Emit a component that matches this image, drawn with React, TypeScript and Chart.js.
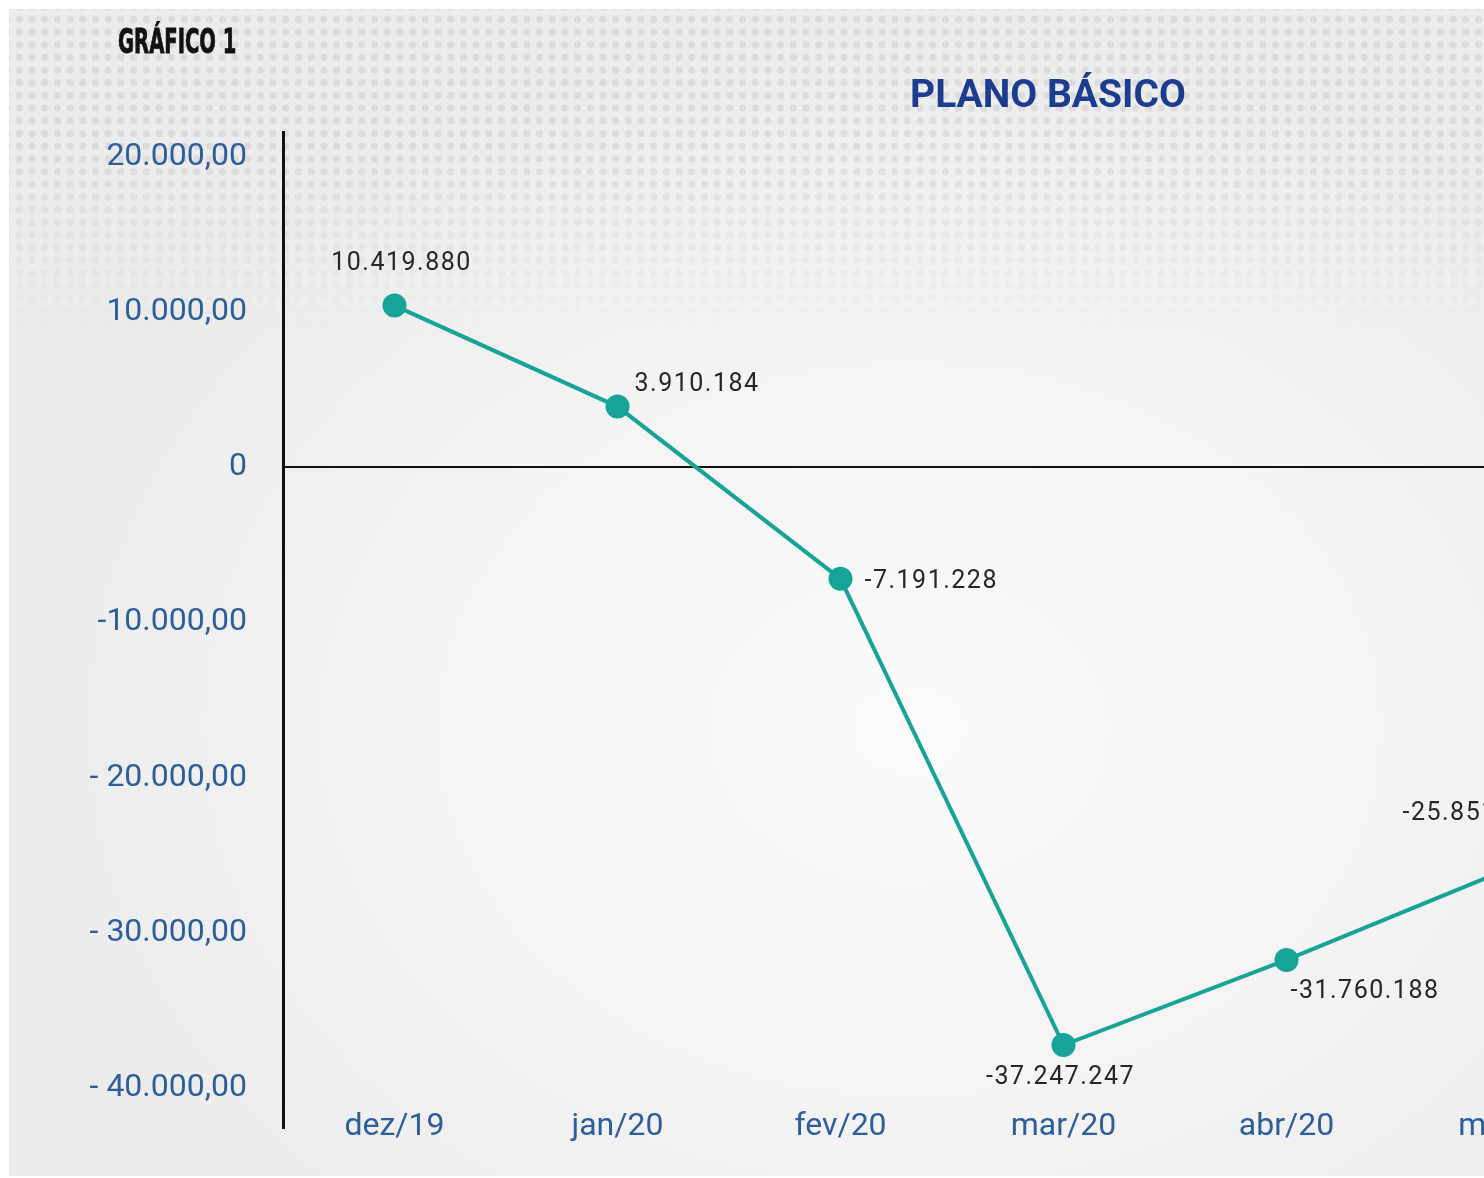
import React, { useEffect, useRef } from "react";
import { Chart, registerables } from "chart.js";

Chart.register(...registerables);

// ---- data ----
const MONTHS = ["dez/19", "jan/20", "fev/20", "mar/20", "abr/20", "mai/20"];
const VALUES = [10419880, 3910184, -7191228, -37247247, -31760188, -25851000];
const Y_TICK_VALUES = [20000, 10000, 0, -10000, -20000, -30000, -40000];
const Y_TICK_LABELS = ["20.000,00", "10.000,00", "0", "-10.000,00", "- 20.000,00", "- 30.000,00", "- 40.000,00"];
const Y_MIN = -42580;
const Y_MAX = 21610;

// ---- label placement (style) ----
const LABEL_PLACEMENT: { dx: number; dy: number; align: CanvasTextAlign }[] = [
  { dx: 7, dy: -42, align: "center" },
  { dx: 17, dy: -22, align: "left" },
  { dx: 24, dy: 3, align: "left" },
  { dx: -3, dy: 33, align: "center" },
  { dx: 4, dy: 32, align: "left" },
  { dx: -107, dy: -55, align: "left" },
];

const TEAL = "#17a398";
const TICK_BLUE = "#2d5e9c";

function fmt(v: number): string {
  const s = Math.abs(v).toString().replace(/\B(?=(\d{3})+(?!\d))/g, ".");
  return (v < 0 ? "-" : "") + s;
}

const valueLabelPlugin = {
  id: "valueLabels",
  afterDatasetsDraw(chart: any) {
    const ctx = chart.ctx as CanvasRenderingContext2D;
    const meta = chart.getDatasetMeta(0);
    ctx.save();
    ctx.font = "400 25px Roboto";
    (ctx as any).letterSpacing = "1.5px";
    ctx.fillStyle = "#262626";
    ctx.textBaseline = "middle";
    meta.data.forEach((el: any, i: number) => {
      const p = LABEL_PLACEMENT[i];
      ctx.textAlign = p.align;
      ctx.fillText(fmt(VALUES[i]), el.x + p.dx, el.y + p.dy);
    });
    ctx.restore();
  },
};

// x-axis category labels drawn at the scale's tick pixels, overlapping the axis bottom
const xLabelPlugin = {
  id: "xLabels",
  afterDraw(chart: any) {
    const ctx = chart.ctx as CanvasRenderingContext2D;
    const xs = chart.scales.x;
    ctx.save();
    ctx.font = "400 32px Roboto";
    ctx.fillStyle = TICK_BLUE;
    ctx.textAlign = "center";
    ctx.textBaseline = "middle";
    MONTHS.forEach((m, i) => {
      ctx.fillText(m, xs.getPixelForTick(i), chart.chartArea.bottom - 1);
    });
    ctx.restore();
  },
};

export default function App() {
  const ref = useRef<HTMLCanvasElement>(null);

  useEffect(() => {
    if (!ref.current) return;
    const chart = new Chart(ref.current, {
      type: "line",
      data: {
        labels: MONTHS,
        datasets: [
          {
            data: VALUES.map((v) => v / 1000),
            borderColor: TEAL,
            backgroundColor: TEAL,
            borderWidth: 4,
            pointRadius: 12,
            pointHoverRadius: 12,
            pointBackgroundColor: TEAL,
            pointBorderWidth: 0,
            tension: 0,
            fill: false,
            clip: false as any,
          },
        ],
      },
      options: {
        responsive: false,
        animation: false,
        devicePixelRatio: 1,
        layout: { padding: { top: 132, left: 0, right: 0, bottom: 0 } },
        plugins: {
          legend: { display: false },
          title: { display: false },
          tooltip: { enabled: false },
        },
        scales: {
          x: {
            type: "category",
            offset: true,
            grid: { display: false, drawTicks: false },
            border: { display: false },
            ticks: { display: false },
            afterFit: (scale: any) => {
              scale.height = 46;
            },
          },
          y: {
            type: "linear",
            min: Y_MIN,
            max: Y_MAX,
            afterBuildTicks: (scale: any) => {
              scale.ticks = Y_TICK_VALUES.map((v) => ({ value: v }));
            },
            afterFit: (scale: any) => {
              scale.width = 283;
            },
            grid: {
              drawTicks: false,
              color: (c: any) => (c.tick && c.tick.value === 0 ? "#111" : "rgba(0,0,0,0)"),
              lineWidth: 2,
            },
            border: { display: true, color: "#111", width: 3 },
            ticks: {
              color: TICK_BLUE,
              font: { family: "Roboto", size: 32 },
              padding: 36,
              callback: (v: any) => {
                const idx = Y_TICK_VALUES.indexOf(Number(v));
                return idx >= 0 ? Y_TICK_LABELS[idx] : "";
              },
            },
          },
        },
      },
      plugins: [valueLabelPlugin, xLabelPlugin],
    });
    return () => chart.destroy();
  }, []);

  return (
    <div
      style={{
        position: "fixed",
        left: 0,
        top: 0,
        width: 1484,
        height: 1178,
        overflow: "hidden",
        background: "#ffffff",
      }}
    >
      <div
        style={{
          position: "absolute",
          left: 9,
          top: 9,
          width: 1500,
          height: 1167,
          background:
            "radial-gradient(ellipse 900px 700px at 900px 720px, #fbfbfb 0%, #f5f5f5 45%, #ececec 100%)",
        }}
      />
      <div
        style={{
          position: "absolute",
          left: 9,
          top: 9,
          width: 1500,
          height: 400,
          backgroundImage: "radial-gradient(circle, rgba(0,0,0,0.07) 0 3.4px, rgba(0,0,0,0) 4px)",
          backgroundSize: "12.7px 12.7px",
          backgroundPosition: "4px 4px",
          WebkitMaskImage: "linear-gradient(to bottom, #000 0px, #000 140px, rgba(0,0,0,0) 330px)",
          maskImage: "linear-gradient(to bottom, #000 0px, #000 140px, rgba(0,0,0,0) 330px)",
        }}
      />
      <canvas
        ref={ref}
        width={1633}
        height={1183}
        style={{ position: "absolute", left: 0, top: 0, width: 1633, height: 1183 }}
      />
      <div
        style={{
          position: "absolute",
          left: 118,
          top: 24,
          fontFamily: "'Liberation Sans Narrow', 'DejaVu Sans Condensed', sans-serif",
          fontWeight: 700,
          fontSize: 34,
          lineHeight: "34px",
          color: "#111",
          transform: "scaleX(0.64)",
          transformOrigin: "left top",
          whiteSpace: "nowrap",
          WebkitTextStroke: "0.8px #111",
        }}
      >
        GRÁFICO 1
      </div>
      <div
        style={{
          position: "absolute",
          left: 910,
          top: 75,
          fontFamily: "Roboto, sans-serif",
          fontWeight: 700,
          fontSize: 39,
          lineHeight: "39px",
          color: "#1c3d8f",
          whiteSpace: "nowrap",
        }}
      >
        PLANO BÁSICO
      </div>
    </div>
  );
}
